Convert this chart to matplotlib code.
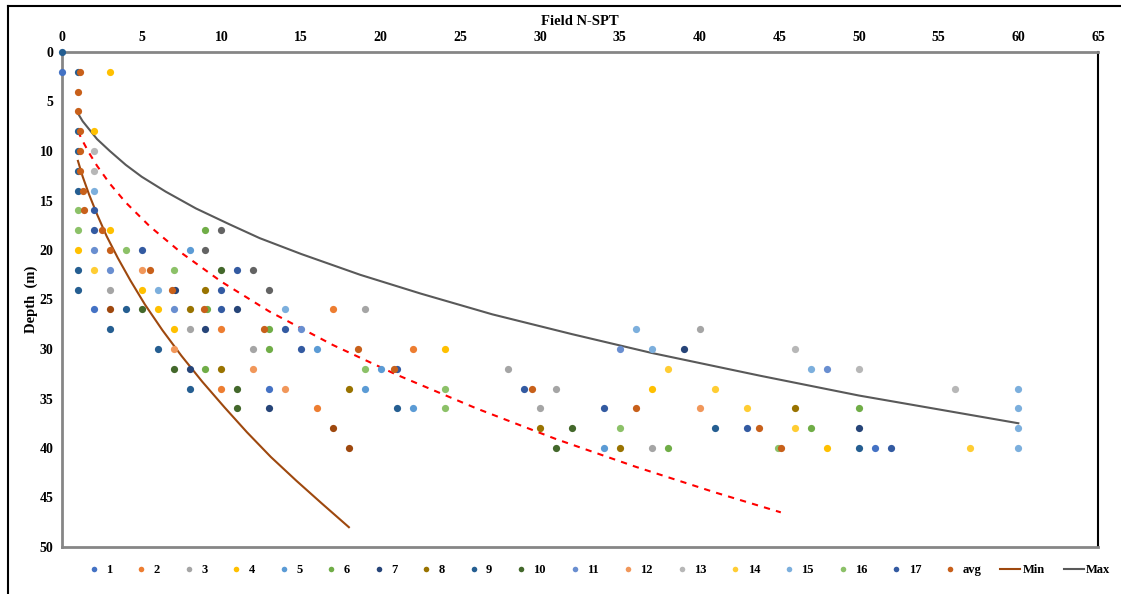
import matplotlib
matplotlib.use("Agg")
import matplotlib.pyplot as plt
from matplotlib.lines import Line2D

plt.rcParams['font.family'] = ['Liberation Serif', 'DejaVu Serif']
plt.rcParams['font.weight'] = 'bold'

# series data: (N-SPT, depth m)
s1_n = [0, 2, 13, 51]
s1_d = [2, 26, 34, 40]
s2_n = [17, 10, 22, 10, 16]
s2_d = [26, 28, 30, 34, 36]
s3_n = [3, 19, 8, 40, 12, 28, 31, 30, 37]
s3_d = [24, 26, 28, 28, 30, 32, 34, 36, 40]
s4_n = [3, 2, 3, 1, 5, 6, 7, 24, 37, 48]
s4_d = [2, 8, 18, 20, 24, 26, 28, 30, 34, 40]
s5_n = [8, 16, 20, 19, 22, 34]
s5_d = [20, 30, 32, 34, 36, 40]
s6_n = [9, 9.1, 13, 13, 9, 50, 47, 38]
s6_d = [18, 26, 28, 30, 32, 36, 38, 40]
s7_n = [7.1, 11, 9, 39, 8, 13, 50]
s7_d = [24, 26, 28, 30, 32, 36, 38]
s8_n = [9, 8, 10, 18, 46, 30, 35]
s8_d = [24, 26, 32, 34, 36, 38, 40]
s9_n = [0, 1, 1, 1, 1, 1, 1, 1, 4, 3, 6, 8, 21, 41, 50]
s9_d = [0, 2, 8, 10, 12, 14, 22, 24, 26, 28, 30, 34, 36, 38, 40]
s10_n = [10, 5, 7, 11, 11, 32, 31]
s10_d = [22, 26, 32, 34, 36, 38, 40]
s11_n = [2, 3, 7, 15, 35, 48]
s11_d = [20, 22, 26, 28, 30, 32]
s12_n = [5, 7, 12, 14, 40]
s12_d = [22, 30, 32, 34, 36]
s13_n = [2, 2, 46, 50, 56]
s13_d = [10, 12, 30, 32, 34]
s14_n = [2, 38, 41, 43, 46, 57]
s14_d = [22, 32, 34, 36, 38, 40]
s15_n = [2, 6, 14, 36, 37, 47, 60, 60, 60, 60]
s15_d = [14, 24, 26, 28, 30, 32, 34, 36, 38, 40]
s16_n = [1, 1, 4, 7, 19, 24, 24, 35, 44.9]
s16_d = [16, 18, 20, 22, 32, 34, 36, 38, 40]
s17_n = [2, 2, 5, 11, 10, 10, 14, 15, 21, 29, 34, 43, 52]
s17_d = [16, 18, 20, 22, 24, 26, 28, 30, 32, 34, 36, 38, 40]
s18_n = [3, 17, 18]
s18_d = [26, 38, 40]
s19_n = [10, 9, 12, 13]
s19_d = [18, 20, 22, 24]
avg_n = [1.15, 1, 1, 1.1, 1.15, 1.15, 1.3, 1.35, 2.5, 3, 5.5, 6.9, 8.9, 12.7, 18.6, 20.8, 29.5, 36, 43.7, 45.1]
avg_d = [2, 4, 6, 8, 10, 12, 14, 16, 18, 20, 22, 24, 26, 28, 30, 32, 34, 36, 38, 40]

# curves
min_n = [1, 1.3, 1.7, 2.2, 2.8, 3.5, 4.3, 5.2, 6.3, 7.5, 8.8, 10.2, 11.6, 13.1, 14.7, 16.3, 18]
min_d = [11, 12.6, 14.4, 16.4, 18.6, 20.8, 23.1, 25.5, 28.1, 30.7, 33.3, 35.9, 38.4, 40.9, 43.3, 45.6, 48]
max_n = [1, 1.3, 1.7, 2.2, 3, 4, 5, 6.5, 8.4, 10.5, 12.4, 15, 18.7, 22.5, 27, 32, 37, 43.8, 50, 55, 60]
max_d = [6.2, 7.0, 7.8, 8.8, 10.0, 11.4, 12.6, 14.1, 15.8, 17.4, 18.8, 20.4, 22.5, 24.4, 26.5, 28.5, 30.4, 32.7, 34.7, 36.1, 37.5]
trend_n = [1, 1.3, 1.7, 2.2, 3, 4, 5.5, 7.5, 10, 13, 17, 21, 26, 31, 36, 41, 45.1]
trend_d = [8, 9.0, 10.2, 11.5, 13.3, 15.2, 17.6, 20.3, 23.2, 26.2, 29.6, 32.6, 36.0, 39.1, 41.9, 44.5, 46.5]

series = [
    ('1', s1_n, s1_d, '#4472C4'), ('2', s2_n, s2_d, '#ED7D31'),
    ('3', s3_n, s3_d, '#A5A5A5'), ('4', s4_n, s4_d, '#FFC000'),
    ('5', s5_n, s5_d, '#5B9BD5'), ('6', s6_n, s6_d, '#70AD47'),
    ('7', s7_n, s7_d, '#264478'), ('_s18', s18_n, s18_d, '#9E480E'),
    ('_s19', s19_n, s19_d, '#636363'), ('8', s8_n, s8_d, '#997300'),
    ('9', s9_n, s9_d, '#255E91'), ('10', s10_n, s10_d, '#43682B'),
    ('11', s11_n, s11_d, '#698ED0'), ('12', s12_n, s12_d, '#F1975A'),
    ('13', s13_n, s13_d, '#B7B7B7'), ('14', s14_n, s14_d, '#FFCD33'),
    ('15', s15_n, s15_d, '#7CAFDD'), ('16', s16_n, s16_d, '#8CC168'),
    ('17', s17_n, s17_d, '#335AA1'), ('avg', avg_n, avg_d, '#C8601A'),
]

fig = plt.figure(figsize=(11.21, 5.94), dpi=100)
ax = fig.add_axes([62 / 1121, 1 - 547 / 594, (1098 - 62) / 1121, (547 - 52) / 594])

handles = []
for name, xs, ys, col in series:
    ax.plot(xs, ys, 'o', color=col, markersize=5.2, markeredgewidth=0, clip_on=False, zorder=3)
    if not name.startswith('_'):
        handles.append(Line2D([], [], marker='o', ls='none', color=col,
                              markersize=4, markeredgewidth=0, label=name))

ax.plot(min_n, min_d, color='#9E480E', lw=1.5, zorder=2)
ax.plot(max_n, max_d, color='#595959', lw=1.5, zorder=2)
ax.plot(trend_n, trend_d, color='#FF0000', lw=1.5, ls=(0, (3, 3)), zorder=2)
handles.append(Line2D([], [], color='#9E480E', lw=1.5, label='Min'))
handles.append(Line2D([], [], color='#595959', lw=1.5, label='Max'))

ax.set_xlim(0, 65)
ax.set_ylim(50, 0)
ax.set_xticks(range(0, 66, 5))
ax.set_yticks(range(0, 51, 5))
ax.xaxis.tick_top()
ax.xaxis.set_label_position('top')
ax.tick_params(length=0, labelsize=10, pad=6)
for lab in ax.get_xticklabels() + ax.get_yticklabels():
    lab.set_fontweight('bold')
ax.set_xlabel('Field N-SPT', fontsize=10.5, fontweight='bold', labelpad=4)
ax.set_ylabel('Depth  (m)', fontsize=10.5, fontweight='bold', labelpad=1)

for side in ['top', 'left', 'bottom']:
    ax.spines[side].set_color('#868686')
    ax.spines[side].set_linewidth(2)
ax.spines['right'].set_color('black')
ax.spines['right'].set_linewidth(1.5)

fig.legend(handles=handles, loc='center', bbox_to_anchor=(597 / 1121, 1 - 570 / 594),
           ncol=len(handles), frameon=False, fontsize=9, handlelength=1.6,
           handletextpad=0.2, columnspacing=1.5, borderaxespad=0)

# outer chart frame (top and left edges)
fig.add_artist(Line2D([8 / 1121, 1], [1 - 6 / 594, 1 - 6 / 594], transform=fig.transFigure,
                      color='black', lw=1.5))
fig.add_artist(Line2D([8 / 1121, 8 / 1121], [0, 1 - 6 / 594], transform=fig.transFigure,
                      color='black', lw=1.5))

fig.savefig('out.png', dpi=100)
